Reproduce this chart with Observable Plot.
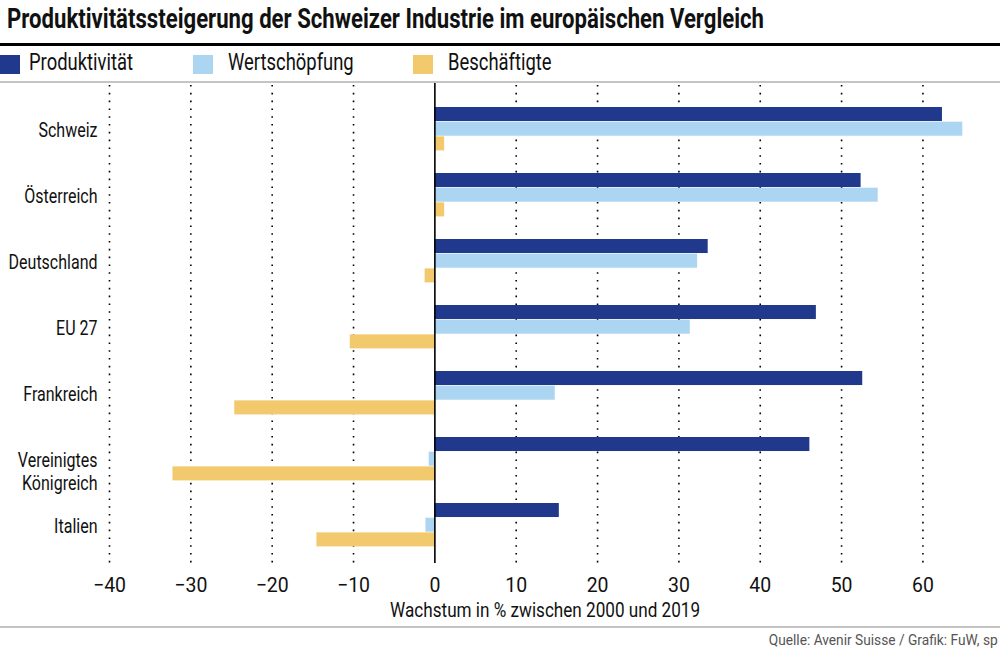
<!DOCTYPE html>
<html>
<head>
<meta charset="utf-8">
<script src="https://cdn.jsdelivr.net/npm/d3@7"></script>
<script src="https://cdn.jsdelivr.net/npm/@observablehq/plot@0.6"></script>
<style>
  html, body { margin: 0; padding: 0; background: #fff; }
  #wrap { position: relative; width: 1000px; height: 649px; overflow: hidden;
    font-family: Roboto, "DejaVu Sans Condensed", sans-serif; color: #111; }
  .sx { display: inline-block; white-space: nowrap; }
  #title { position: absolute; left: 7px; top: 2px; font-size: 28px; font-weight: bold; white-space: nowrap; }
  #title .sx { transform-origin: 0 50%; }
  #rule1 { position: absolute; left: 0; top: 43px; width: 1000px; height: 3px; background: #000; }
  #legend { position: absolute; left: 0; top: 49px; height: 28px; font-size: 23px; }
  .item { position: absolute; top: 0; white-space: nowrap; }
  .sw { position: absolute; top: 6px; width: 20px; height: 19px; }
  .lab { position: absolute; top: 0px; }
  .lab .sx { transform-origin: 0 50%; }
  #rule2 { position: absolute; left: 0; top: 81px; width: 1000px; height: 2px; background: #c4c4c4; }
  #chart { position: absolute; left: 0; top: 82px; }
  #xlabel { position: absolute; left: 0; width: 1090px; text-align: center; top: 600px; font-size: 21px; line-height: 20px; white-space: nowrap; }
  #xlabel .sx { transform-origin: 50% 50%; }
  #rule3 { position: absolute; left: 0; top: 626px; width: 1000px; height: 2px; background: #c4c4c4; }
  #source { position: absolute; right: 2px; top: 632px; font-size: 14px; line-height: 16px; color: #555; white-space: nowrap; }
  #source .sx { transform-origin: 100% 50%; }
</style>
</head>
<body>
<div id="wrap">
  <div id="title"><span class="sx">Produktivitätssteigerung der Schweizer Industrie im europäischen Vergleich</span></div>
  <div id="rule1"></div>
  <div id="legend"></div>
  <div id="rule2"></div>
  <div id="chart"></div>
  <div id="xlabel"><span class="sx">Wachstum in % zwischen 2000 und 2019</span></div>
  <div id="rule3"></div>
  <div id="source"><span class="sx">Quelle: Avenir Suisse / Grafik: FuW, sp</span></div>
</div>
<script>
const countries = ["Schweiz", "Österreich", "Deutschland", "EU 27", "Frankreich", "Vereinigtes Königreich", "Italien"];
const seriesNames = ["Produktivität", "Wertschöpfung", "Beschäftigte"];
const seriesColors = ["#21398c", "#acd5f2", "#f2c96c"];
const produktivitaet = [62.4, 52.4, 33.6, 46.9, 52.6, 46.1, 15.3];
const wertschoepfung = [64.9, 54.5, 32.3, 31.4, 14.8, -0.7, -1.1];
const beschaeftigte = [1.2, 1.2, -1.2, -10.4, -24.6, -32.2, -14.5];
const xTicks = [-40, -30, -20, -10, 0, 10, 20, 30, 40, 50, 60];

const seriesValues = [produktivitaet, wertschoepfung, beschaeftigte];
const FONT = 'Roboto, "DejaVu Sans Condensed", sans-serif';

// condensed look: measure and squeeze horizontally
const ctx = document.createElement("canvas").getContext("2d");
function measure(str, font) { ctx.font = font; return ctx.measureText(str).width; }
const kBody = 89 / measure("Deutschland", "21px " + FONT);
const kTick = 33 / measure("\u221240", "21px " + FONT);
const kTitle = 757 / measure(document.querySelector("#title .sx").textContent, "bold 28px " + FONT);
const kLegend = 104 / measure("Produktivität", "23px " + FONT);
const kXlabel = 310 / measure(document.querySelector("#xlabel .sx").textContent, "21px " + FONT);
const kSource = 229 / measure(document.querySelector("#source .sx").textContent, "14px " + FONT);

// legend
const legendX = [0, 193, 413];
const legend = document.getElementById("legend");
seriesNames.forEach((name, i) => {
  const it = document.createElement("div");
  it.className = "item";
  it.style.left = legendX[i] + "px";
  it.innerHTML = `<div class="sw" style="left:0;background:${seriesColors[i]}"></div><div class="lab" style="left:${i === 0 ? 29 : 35}px"><span class="sx">${name}</span></div>`;
  legend.appendChild(it);
});

document.querySelector("#title .sx").style.transform = `scaleX(${kTitle})`;
document.querySelectorAll(".lab .sx").forEach(el => el.style.transform = `scaleX(${kLegend})`);
document.querySelector("#xlabel .sx").style.transform = `scaleX(${kXlabel})`;
document.querySelector("#source .sx").style.transform = `scaleX(${kSource})`;

const rows = [];
seriesNames.forEach((s, si) => {
  countries.forEach((c, ci) => rows.push({country: c, series: s, si, value: seriesValues[si][ci]}));
});

const bandPx = 44.06;
const part = bandPx / 3;

const barMarks = seriesNames.map((s, si) =>
  Plot.barX(rows.filter(d => d.si === si), {
    y: "country",
    x: "value",
    fill: seriesColors[si],
    insetTop: part * si,
    insetBottom: part * (2 - si) + 0.6
  })
);

const twoLine = "Vereinigtes Königreich";

const plot = Plot.plot({
  width: 1000,
  height: 545,
  marginLeft: 109,
  marginRight: 19,
  marginTop: 0,
  marginBottom: 55,
  style: {fontFamily: FONT, background: "transparent", color: "#111"},
  x: {domain: [-40, 67.2]},
  y: {domain: countries, padding: 0.34},
  marks: [
    Plot.ruleX(xTicks.filter(t => t !== 0), {stroke: "#000", strokeWidth: 1.6, strokeDasharray: "1.6 6.2", insetTop: 3, insetBottom: 9}),
    ...barMarks,
    Plot.ruleX([0], {stroke: "#000", strokeWidth: 1.6, insetTop: 1, insetBottom: 9}),
    Plot.axisX({ticks: xTicks, tickSize: 0, tickPadding: 5, fontSize: 21, label: null, className: "xax"}),
    Plot.axisY({ticks: countries.filter(c => c !== twoLine), tickSize: 0, tickPadding: 12, fontSize: 21, label: null, dy: 1, className: "yax"}),
    Plot.axisY({ticks: [twoLine], tickSize: 0, tickPadding: 12, fontSize: 21, label: null, lineHeight: 1.1, dy: 12,
      tickFormat: () => "Vereinigtes\nKönigreich", className: "yax"})
  ]
});
document.getElementById("chart").appendChild(plot);

// squeeze svg texts around their anchor points
function squeeze(t, k) {
  const tr = t.getAttribute("transform");
  if (tr) {
    t.setAttribute("transform", tr + ` scale(${k},1)`);
  } else {
    const x = +t.getAttribute("x") || 0;
    t.setAttribute("transform", `translate(${x},0) scale(${k},1) translate(${-x},0)`);
  }
}
plot.querySelectorAll(".xax text").forEach(t => squeeze(t, kTick));
plot.querySelectorAll(".yax text").forEach(t => squeeze(t, kBody));
</script>
</body>
</html>
